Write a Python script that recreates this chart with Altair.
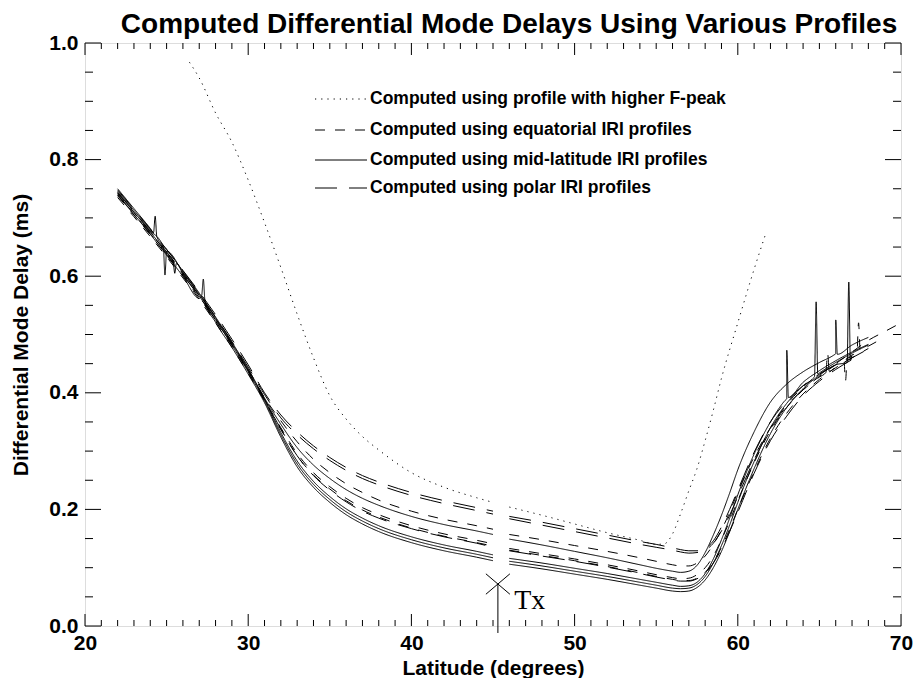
import altair as alt
import pandas as pd

# ---------------- data ----------------
lat_grid = [22, 23, 24, 25, 26, 27, 28, 29, 30, 31, 32, 33, 34, 35, 36, 37, 38, 40, 42, 44, 45.0,
            46.0, 48, 50, 52, 54, 55, 56, 56.5, 57, 57.5, 58, 58.5, 59, 59.5, 60, 61, 62, 63, 64, 65,
            66, 67, 68, 69, 70]
gap_lat = 45.5  # curves are interrupted around the transmitter

S_DOT = "Computed using profile with higher F-peak"
S_EQ = "Computed using equatorial IRI profiles"
S_MID = "Computed using mid-latitude IRI profiles"
S_POL = "Computed using polar IRI profiles"
styles = [S_DOT, S_EQ, S_MID, S_POL]

P1 = [0.748, 0.715, 0.681, 0.646, 0.61, 0.573, 0.534, 0.492, 0.448, 0.40,
      0.362, 0.333, 0.309, 0.289, 0.272, 0.258, 0.247, 0.229, 0.215, 0.203, 0.197,
      0.188, 0.178, 0.167, 0.156, 0.145, 0.14, 0.134, 0.131, 0.129, 0.129, 0.133, 0.146, 0.17, 0.2,
      0.233, 0.298, 0.35, 0.386, 0.412, 0.432, 0.448, 0.463, None, None, None]
P2 = [0.744, 0.711, 0.677, 0.642, 0.606, 0.569, 0.53, 0.488, 0.444, 0.397,
      0.357, 0.328, 0.304, 0.284, 0.267, 0.253, 0.242, 0.224, 0.21, 0.198, 0.192,
      0.184, 0.173, 0.162, 0.151, 0.14, 0.135, 0.13, 0.127, 0.125, 0.126, 0.13, 0.142, 0.163, 0.19,
      0.222, 0.285, 0.338, 0.377, 0.405, 0.427, 0.444, 0.46, 0.475, None, None]
E1 = [0.742, 0.709, 0.675, 0.64, 0.604, 0.567, 0.527, 0.485, 0.44, 0.392,
      0.352, 0.316, 0.286, 0.263, 0.244, 0.229, 0.216, 0.197, 0.183, 0.172, 0.166,
      0.157, 0.148, 0.138, 0.128, 0.117, 0.111, 0.105, 0.103, 0.103, 0.108, 0.12, 0.14, 0.165, 0.195,
      0.23, 0.29, 0.34, 0.38, 0.41, 0.432, 0.45, 0.47, 0.49, 0.505, 0.52]
S1 = [0.75, 0.716, 0.682, 0.646, 0.609, 0.571, 0.53, 0.487, 0.441, 0.391,
      0.346, 0.306, 0.276, 0.253, 0.234, 0.219, 0.207, 0.188, 0.174, 0.163, 0.157,
      0.149, 0.139, 0.128, 0.117, 0.105, 0.099, 0.094, 0.092, 0.094, 0.104, 0.126, 0.156, 0.19, 0.228,
      0.268, 0.333, 0.384, 0.415, 0.436, 0.452, 0.467, 0.482, 0.495, None, None]
E2 = [0.738, 0.705, 0.671, 0.636, 0.6, 0.563, 0.523, 0.481, 0.436, 0.388,
      0.34, 0.296, 0.263, 0.239, 0.219, 0.203, 0.191, 0.172, 0.158, 0.147, 0.141,
      0.133, 0.124, 0.115, 0.105, 0.094, 0.088, 0.083, 0.081, 0.082, 0.088, 0.1, 0.12, 0.148, 0.18,
      0.215, 0.28, 0.335, 0.375, 0.405, 0.428, 0.448, 0.465, 0.48, 0.495, None]
E3 = [0.735, 0.702, 0.668, 0.633, 0.597, 0.56, 0.52, 0.478, 0.433, 0.386,
      0.337, 0.292, 0.259, 0.235, 0.215, 0.199, 0.187, 0.168, 0.154, 0.143, 0.137,
      0.13, 0.121, 0.112, 0.102, 0.091, 0.085, 0.08, 0.078, 0.078, 0.082, 0.092, 0.11, 0.135, 0.166,
      0.2, 0.265, 0.322, 0.365, 0.398, 0.423, 0.443, 0.46, 0.476, None, None]
P3 = [0.74, 0.707, 0.673, 0.638, 0.602, 0.565, 0.525, 0.483, 0.438, 0.389,
      0.338, 0.292, 0.258, 0.233, 0.213, 0.197, 0.185, 0.167, 0.153, 0.142, 0.135,
      0.129, 0.12, 0.111, 0.101, 0.09, 0.084, 0.079, 0.077, 0.077, 0.081, 0.09, 0.108, 0.132, 0.162,
      0.195, 0.262, 0.318, 0.36, 0.395, 0.42, 0.44, 0.457, None, None, None]
S2 = [0.746, 0.713, 0.679, 0.643, 0.607, 0.569, 0.528, 0.485, 0.439, 0.389,
      0.332, 0.283, 0.248, 0.222, 0.201, 0.185, 0.172, 0.153, 0.139, 0.128, 0.122,
      0.116, 0.108, 0.099, 0.09, 0.08, 0.075, 0.07, 0.068, 0.069, 0.075, 0.09, 0.115, 0.148, 0.185,
      0.225, 0.295, 0.35, 0.39, 0.418, 0.438, 0.455, 0.47, 0.483, None, None]
S3 = [0.743, 0.71, 0.676, 0.64, 0.604, 0.566, 0.525, 0.482, 0.436, 0.386,
      0.328, 0.278, 0.243, 0.217, 0.196, 0.18, 0.167, 0.148, 0.134, 0.123, 0.117,
      0.111, 0.103, 0.094, 0.085, 0.075, 0.07, 0.065, 0.064, 0.065, 0.071, 0.085, 0.108, 0.138, 0.173,
      0.212, 0.282, 0.34, 0.382, 0.412, 0.434, 0.452, 0.468, 0.482, None, None]
S4 = [0.739, 0.706, 0.672, 0.636, 0.6, 0.562, 0.521, 0.478, 0.432, 0.383,
      0.324, 0.273, 0.238, 0.212, 0.191, 0.175, 0.162, 0.143, 0.129, 0.118, 0.112,
      0.106, 0.098, 0.089, 0.08, 0.07, 0.065, 0.06, 0.059, 0.06, 0.066, 0.079, 0.1, 0.128, 0.162,
      0.2, 0.27, 0.33, 0.375, 0.407, 0.43, 0.448, 0.464, None, None, None]

# sharp noisy excursions (latitude, value), with their local base points
spikes = {
    "S1": [(24.2, 0.675), (24.3, 0.703), (24.4, 0.668),
           (65.9, 0.465), (66.0, 0.525), (66.1, 0.466)],
    "S2": [(24.8, 0.65), (24.9, 0.602), (25.0, 0.643),
           (62.9, 0.387), (63.0, 0.473), (63.1, 0.392)],
    "S3": [(25.4, 0.626), (25.5, 0.605), (25.6, 0.622),
           (64.7, 0.428), (64.8, 0.556), (64.9, 0.432)],
    "S4": [(27.15, 0.567), (27.25, 0.595), (27.35, 0.558),
           (66.7, 0.452), (66.8, 0.59), (66.9, 0.455)],
    "E2": [(66.5, 0.457), (66.6, 0.42), (66.7, 0.459), (67.3, 0.468), (67.4, 0.52), (67.5, 0.472)],
    "P2": [(65.4, 0.435), (65.5, 0.47), (65.6, 0.437)],
}

dot_lat = [26.4, 27, 28, 29, 30, 31, 32, 33, 34, 35, 36, 37, 38, 40, 42, 44, 45.0,
           46.0, 48, 50, 52, 54, 55, 55.5, 56, 56.5, 57, 57.5, 58, 58.5, 59, 60, 61, 61.7]
dot_val = [0.967, 0.94, 0.88, 0.83, 0.765, 0.692, 0.615, 0.535, 0.46, 0.395, 0.355, 0.325, 0.302,
           0.263, 0.238, 0.22, 0.212,
           0.204, 0.19, 0.175, 0.16, 0.147, 0.14, 0.141, 0.158, 0.193, 0.232, 0.27, 0.318, 0.37,
           0.425, 0.52, 0.612, 0.672]

curves = {"P1": (P1, S_POL), "P2": (P2, S_POL), "E1": (E1, S_EQ), "S1": (S1, S_MID),
          "E2": (E2, S_EQ), "E3": (E3, S_EQ), "P3": (P3, S_POL), "S2": (S2, S_MID),
          "S3": (S3, S_MID), "S4": (S4, S_MID)}

x_major = [20, 30, 40, 50, 60, 70]
x_minor = [v for v in range(21, 70) if v % 10 != 0]
y_major = [0.0, 0.2, 0.4, 0.6, 0.8, 1.0]
y_minor = [round(0.05 * k, 2) for k in range(1, 20) if k % 4 != 0]

tx_lat = [45.3]
tx_low, tx_high = -0.012, 0.072
tx_label_lat, tx_label_val = 46.3, 0.03

# ---------------- table ----------------
rows = []
for name, (vals, style) in curves.items():
    pts = [(la, v) for la, v in zip(lat_grid, vals) if v is not None]
    pts += spikes.get(name, [])
    for la, v in pts:
        seg = "a" if la < gap_lat else "b"
        rows.append({"curve": name + seg, "style": style, "lat": la, "val": v})
for la, v in zip(dot_lat, dot_val):
    seg = "a" if la < gap_lat else "b"
    rows.append({"curve": "D" + seg, "style": S_DOT, "lat": la, "val": v})
df = pd.DataFrame(rows).sort_values(["curve", "lat"])

W, H = 816, 583
FONT = "Liberation Sans"
xs = alt.Scale(domain=[20, 70], nice=False, zero=False)
ys = alt.Scale(domain=[0, 1], nice=False, zero=False)

AX = alt.Axis(values=x_major, format="d", ticks=False, domain=False, grid=False,
              labelFont=FONT, labelFontSize=21, labelFontWeight="bold", labelColor="black",
              labelPadding=6, labelFlush=False, title="Latitude (degrees)",
              titleFont=FONT, titleFontSize=21, titleFontWeight="bold", titleColor="black",
              titlePadding=4)
AY = alt.Axis(values=y_major, format=".1f", ticks=False, domain=False, grid=False,
              labelFont=FONT, labelFontSize=21, labelFontWeight="bold", labelColor="black",
              labelPadding=7, labelFlush=False, title="Differential Mode Delay (ms)",
              titleFont=FONT, titleFontSize=21, titleFontWeight="bold", titleColor="black",
              titlePadding=17)

dash_range = [[1.2, 5], [10, 10], [1, 0], [22, 12]]

lines = alt.Chart(df).mark_line(strokeWidth=1, color="black", interpolate="monotone").encode(
    x=alt.X("lat:Q", scale=xs, axis=AX),
    y=alt.Y("val:Q", scale=ys, axis=AY),
    detail="curve:N",
    strokeDash=alt.StrokeDash("style:N", scale=alt.Scale(domain=styles, range=dash_range),
                              legend=None),
)

xmaj = pd.DataFrame({"t": x_major})
xmin = pd.DataFrame({"t": x_minor})
ymaj = pd.DataFrame({"t": y_major})
ymin = pd.DataFrame({"t": y_minor})


def xt(d, y0, y1):
    return alt.Chart(d).mark_rule(color="black", strokeWidth=1).encode(
        x=alt.X("t:Q", scale=xs, axis=AX), y=alt.value(y0), y2=alt.value(y1))


def yt(d, x0, x1):
    return alt.Chart(d).mark_rule(color="black", strokeWidth=1).encode(
        y=alt.Y("t:Q", scale=ys, axis=AY), x=alt.value(x0), x2=alt.value(x1))


ticks = [xt(xmaj, H, H - 12), xt(xmaj, 0, 12), xt(xmin, H, H - 6), xt(xmin, 0, 6),
         yt(ymaj, 0, 16), yt(ymaj, W, W - 16), yt(ymin, 0, 8), yt(ymin, W, W - 8)]

# custom legend (line sample + label per row)
leg_rows = [56, 87, 117, 145]
legend_layers = []
for i, st in enumerate(styles):
    ld = pd.DataFrame({"label": [st]})
    legend_layers.append(alt.Chart(ld).mark_rule(color="black", strokeWidth=1,
                                                 strokeDash=dash_range[i]).encode(
        x=alt.value(230), x2=alt.value(282), y=alt.value(leg_rows[i])))
    legend_layers.append(alt.Chart(ld).mark_text(
        align="left", baseline="middle", font=FONT, fontSize=17.5, fontWeight="bold",
        color="black").encode(x=alt.value(285), y=alt.value(leg_rows[i]), text="label:N"))

txdf = pd.DataFrame({"lat": tx_lat, "lo": [tx_low], "hi": [tx_high]})
tx_rule = alt.Chart(txdf).mark_rule(color="black", strokeWidth=1).encode(
    x=alt.X("lat:Q", scale=xs, axis=AX), y=alt.Y("lo:Q", scale=ys, axis=AY), y2="hi:Q")
tx_x = alt.Chart(txdf).mark_point(
    shape="M-1,-0.85L1,0.85M-1,0.85L1,-0.85", size=576, filled=False,
    stroke="black", strokeWidth=1, opacity=1).encode(
    x=alt.X("lat:Q", scale=xs, axis=AX), y=alt.Y("hi:Q", scale=ys, axis=AY))
tx_text = alt.Chart(pd.DataFrame({"lat": [tx_label_lat], "val": [tx_label_val], "t": ["Tx"]})).mark_text(
    align="left", baseline="alphabetic", font="Liberation Serif", fontSize=28, color="black").encode(
    x=alt.X("lat:Q", scale=xs, axis=AX), y=alt.Y("val:Q", scale=ys, axis=AY), text="t:N")

chart = alt.layer(lines, *ticks, *legend_layers, tx_rule, tx_x, tx_text).properties(
    width=W, height=H,
    title=alt.TitleParams("Computed Differential Mode Delays Using Various Profiles",
                          font=FONT, fontSize=28, fontWeight="bold", color="black",
                          anchor="middle", offset=0, dx=16, dy=7),
    autosize=alt.AutoSizeParams(type="none"),
    padding={"left": 77, "top": 35, "right": 12, "bottom": 52},
).configure_view(stroke="black", strokeWidth=1).configure(background="white")

chart.save("out.html", embed_options={"renderer": "svg", "actions": False})
